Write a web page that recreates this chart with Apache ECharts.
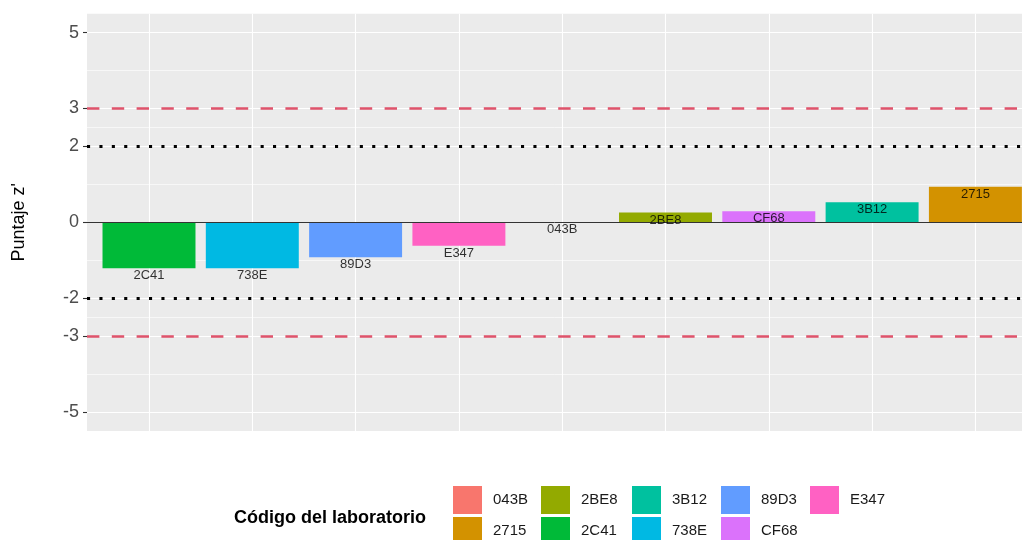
<!DOCTYPE html>
<html>
<head>
<meta charset="utf-8">
<script src="https://cdn.jsdelivr.net/npm/echarts@6/dist/echarts.min.js"></script>
<style>
html,body{margin:0;padding:0;background:#fff;}
#chart{width:1022px;height:540px;}
</style>
</head>
<body>
<div id="chart"></div>
<script>
// ---- data ----
const categories = ['2C41', '738E', '89D3', 'E347', '043B', '2BE8', 'CF68', '3B12', '2715'];
const zScores = [-1.21, -1.21, -0.92, -0.62, 0, 0.26, 0.29, 0.53, 0.94];
const legendOrder = ['043B', '2715', '2BE8', '2C41', '3B12', '738E', '89D3', 'CF68', 'E347'];
const yTicks = [-5, -3, -2, 0, 2, 3, 5];
const yMinorBreaks = [-4, -2.5, -1, 1, 2.5, 4];
const warningLimits = [-2, 2];
const actionLimits = [-3, 3];
const yRange = [-5.5, 5.5];

// ---- style ----
const labColors = {
  '043B': '#F8766D', '2715': '#D39200', '2BE8': '#93AA00', '2C41': '#00BA38',
  '3B12': '#00C19F', '738E': '#00B9E3', '89D3': '#619CFF', 'CF68': '#DB72FB', 'E347': '#FF61C3'
};
const STEP = 0.5;
const FONT = 'Liberation Sans, Arial, sans-serif';
const nTicks = Math.round((yRange[1] - yRange[0]) / STEP) + 1;
function lineColors(vals) {
  const arr = [];
  for (let i = 0; i < nTicks; i++) {
    const v = yRange[0] + i * STEP;
    arr.push(vals.some(b => Math.abs(b - v) < 1e-9) ? '#FFFFFF' : 'rgba(0,0,0,0)');
  }
  return arr;
}

const panel = { left: 87, top: 13.7, width: 950, height: 417.2 };
const catStart = 149, catStep = 103.3;

const chart = echarts.init(document.getElementById('chart'), null, { renderer: 'canvas' });

const barSeries = categories.map((c, i) => ({
  type: 'bar',
  name: c,
  xAxisIndex: 1,
  yAxisIndex: 2,
  data: categories.map((_, j) => (j === i ? zScores[i] : '-')),
  barWidth: '90%',
  barGap: '-100%',
  clip: false,
  z: 2,
  itemStyle: { color: labColors[c] },
  silent: true
}));

const markData = [
  { yAxis: 0, lineStyle: { color: '#333333', width: 1, type: 'solid' } }
].concat(actionLimits.map(v => ({ yAxis: v, lineStyle: { color: '#DF536B', width: 2.6, type: [12.4, 12.4] } })))
 .concat(warningLimits.map(v => ({ yAxis: v, lineStyle: { color: '#000000', width: 3, type: [3.1, 9.3] } })));

const legendLefts = [453, 541, 632, 721, 810];
const legendTops = [486, 517];

const option = {
  animation: false,
  backgroundColor: '#FFFFFF',
  grid: [
    { left: panel.left, top: panel.top, width: panel.width, height: panel.height, show: true, backgroundColor: '#EBEBEB', borderWidth: 0 },
    { left: catStart, top: panel.top, width: catStep * (categories.length - 1), height: panel.height, show: false }
  ],
  xAxis: [
    { gridIndex: 0, type: 'value', min: 0, max: 1, show: false },
    {
      gridIndex: 1, type: 'category', data: categories, boundaryGap: false,
      axisLine: { show: false }, axisTick: { show: false }, axisLabel: { show: false },
      splitLine: { show: true, lineStyle: { color: '#FFFFFF', width: 1.1 } }
    }
  ],
  yAxis: [
    {
      gridIndex: 0, type: 'value', min: yRange[0], max: yRange[1], interval: STEP,
      axisLine: { show: false },
      axisTick: { show: true, customValues: yTicks, length: 4, lineStyle: { color: '#333333', width: 1.1 } },
      axisLabel: { show: true, customValues: yTicks, fontSize: 18, color: '#4D4D4D', margin: 8, fontFamily: FONT },
      splitLine: { show: true, lineStyle: { color: '#FFFFFF', width: 1.2 } }
    },
    {
      gridIndex: 0, type: 'value', min: yRange[0], max: yRange[1], interval: STEP,
      axisLine: { show: false }, axisTick: { show: false }, axisLabel: { show: false },
      splitLine: { show: true, lineStyle: { color: lineColors(yMinorBreaks), width: 0.6 } }
    },
    {
      gridIndex: 1, type: 'value', min: yRange[0], max: yRange[1],
      axisLine: { show: false }, axisTick: { show: false }, axisLabel: { show: false }, splitLine: { show: false }
    }
  ],
  legend: legendOrder.map((name, k) => ({
    data: [name],
    orient: 'horizontal',
    left: legendLefts[Math.floor(k / 2)],
    top: legendTops[k % 2],
    itemWidth: 29,
    itemHeight: 28,
    icon: 'rect',
    selectedMode: false,
    padding: 0,
    textStyle: { fontSize: 15, color: '#1A1A1A', fontFamily: FONT, padding: [0, 0, 0, 6] }
  })),
  graphic: [
    {
      type: 'text', x: 19, y: panel.top + panel.height / 2, rotation: Math.PI / 2,
      style: { text: "Puntaje z'", fontSize: 18, fill: '#000000', fontFamily: FONT, textAlign: 'center', textVerticalAlign: 'middle' }
    },
    {
      type: 'text', x: 234, y: 518,
      style: { text: 'Código del laboratorio', fontSize: 18, fontWeight: 'bold', fill: '#000000', fontFamily: FONT, textAlign: 'left', textVerticalAlign: 'middle' }
    }
  ],
  series: barSeries.concat([
    {
      type: 'line', name: 'refLines', xAxisIndex: 0, yAxisIndex: 0, data: [], z: 3, silent: true,
      markLine: { symbol: ['none', 'none'], silent: true, animation: false, label: { show: false }, data: markData }
    },
    {
      type: 'scatter', name: 'labels', xAxisIndex: 1, yAxisIndex: 2, data: zScores, clip: false,
      symbolSize: 0, itemStyle: { color: 'rgba(0,0,0,0)' }, silent: true, z: 5,
      label: { show: true, position: 'bottom', distance: 1, formatter: p => p.name, fontSize: 13, color: '#000000', fontFamily: FONT }
    }
  ])
};
chart.setOption(option);
</script>
</body>
</html>
